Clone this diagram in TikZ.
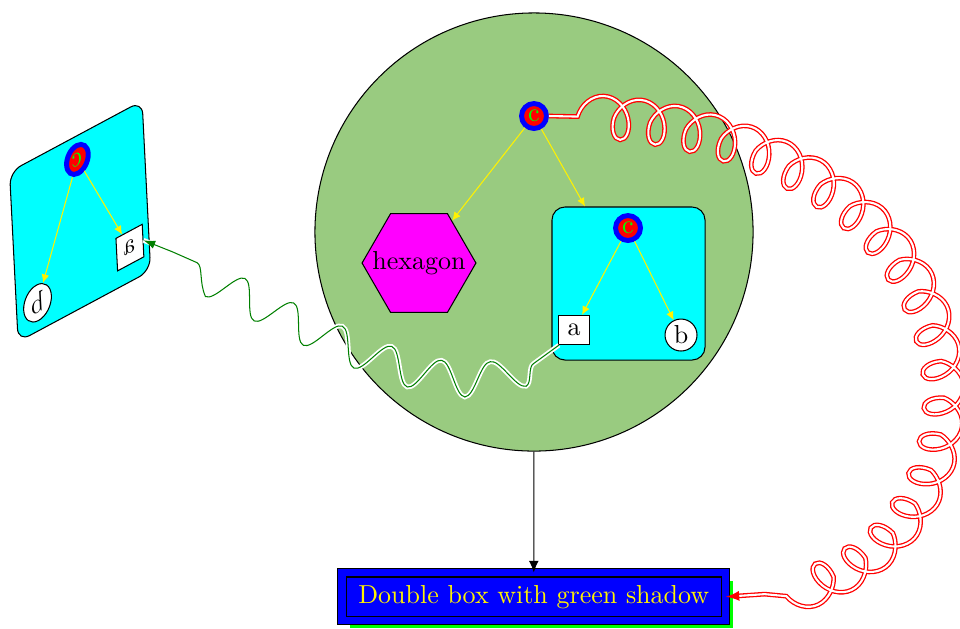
\documentclass[tikz,border=0pt]{standalone}
\usetikzlibrary{shapes.geometric,decorations.pathmorphing,shadows,arrows.meta}
\definecolor{bigg}{RGB}{153,203,128}
\definecolor{cyanc}{RGB}{0,255,255}
\definecolor{magc}{RGB}{255,0,255}
\newcommand\subtreeof[1]{%
  \node[cbox] (#1box) at (0,0) {};
  \node[croot] (#1root) at (-0.5,55.5) {c};
  \node[leafa] (#1a) at (-54.5,-46.5) {a};
  \node[leafb] (#1b) at (52.5,-51.5) {b};
  \draw[tedge] (#1root) -- (#1a);
  \draw[tedge] (#1root) -- (#1b);
}
\begin{document}
\begin{tikzpicture}[x=0.3846pt,y=0.3846pt,
  croot/.style={circle, fill=red, draw=blue, line width=1.9pt, text=green, minimum size=9.6pt, inner sep=0.5pt},
  cbox/.style={rectangle, rounded corners=5pt, fill=cyanc, draw=black, minimum width=58.85pt, minimum height=58.85pt, inner sep=0pt},
  leafa/.style={rectangle, fill=white, draw=black},
  leafb/.style={circle, fill=white, draw=black, minimum size=12.3pt, inner sep=1pt},
  tedge/.style={draw=yellow, -{Latex[length=3.3pt,width=3pt]}},
  hexa/.style={regular polygon, regular polygon sides=6, fill=magc, draw=black, minimum size=43.8pt, inner sep=0pt},
  bigc/.style={circle, fill=bigg, draw=black, minimum size=168.5pt, inner sep=0pt},
  dbl/.style={rectangle, draw=black, double=blue, double distance=2.7pt, fill=blue, text=yellow, minimum width=147.5pt, minimum height=18.3pt, inner sep=0pt, drop shadow={fill=green, opacity=1, shadow xshift=3pt, shadow yshift=-3pt}},
  snk/.style={draw=green!50!black, -{Latex[length=4.5pt,width=3.2pt]}, decorate, decoration={snake, amplitude=6.5pt, segment length=21pt, pre length=12pt, post length=12pt}, preaction={draw=white, line width=1.8pt, arrows=-}},
  coilst/.style={draw=red, double=white, double distance=0.8pt, line width=0.5pt, -latex, decorate, decoration={coil, aspect=0.75, amplitude=8.3pt, segment length=14pt, pre length=11pt, post length=15pt}}
]
\useasboundingbox (0,0) rectangle (960,-628);
\node[bigc] (big) at (534,-232) {};
\node[croot] (root) at (534,-116) {c};
\node[hexa] (hex) at (419,-263) {\makebox[0pt]{hexagon}};
\begin{scope}[shift={(628.5,-283.5)}]
  \subtreeof{s}
\end{scope}
\draw[tedge] (root) -- (hex);
\draw[tedge] (root) -- (sbox);
\begin{scope}[cm={-0.866,-0.464,-0.056,1.11,(80.1,-221.25)}, transform shape]
  \subtreeof{l}
\end{scope}
\node[dbl] (dbox) at (533.75,-596.75) {Double box with green shadow};
\draw[-{Latex[length=4.5pt,width=3.8pt]}] (big) -- (dbox);
\draw[snk] (sa) .. controls +(225:150) and +(-20:150) .. (la.west);
\draw[coilst] (root.east) .. controls +(0:490) and +(0:310) .. (dbox.east);
\end{tikzpicture}
\end{document}
